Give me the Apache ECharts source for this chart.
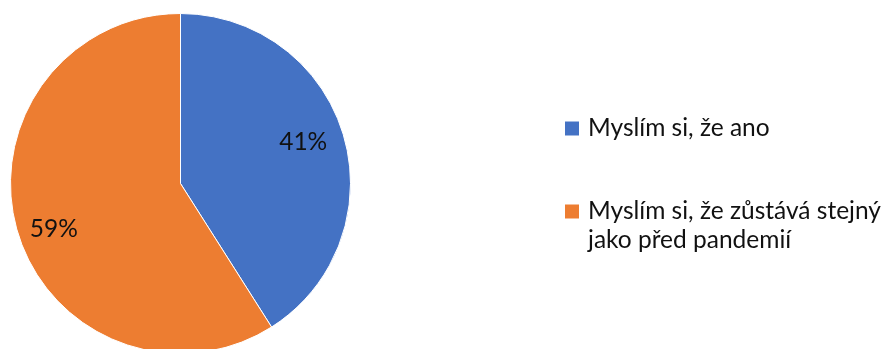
<!DOCTYPE html>
<html>
<head>
<meta charset="utf-8">
<script src="https://cdn.jsdelivr.net/npm/echarts@6/dist/echarts.min.js"></script>
<style>
  html, body { margin: 0; padding: 0; background: #fff; }
  #chart { width: 883px; height: 349px; }
</style>
</head>
<body>
<div id="chart"></div>
<script>
// Categories, shares (percent) and slice colours
const categories = ['Myslím si, že ano', 'Myslím si, že zůstává stejný\njako před pandemií'];
const values = [41, 59];
const colors = ['#4472C4', '#ED7D31'];

const FONT = 'Lato';
const FONT_SIZE = 24.5;
const chart = echarts.init(document.getElementById('chart'), null, { renderer: 'canvas' });

// Legend entries are rich text: a coloured square, a gap, then the (possibly wrapped) name
const rich = {
  t: { fontFamily: FONT, fontSize: FONT_SIZE, color: '#111', lineHeight: 29, verticalAlign: 'middle' },
  g: { width: 9, height: 14 },
  s: { width: 23, height: 14 }
};
colors.forEach((c, i) => {
  rich['m' + i] = { width: 14, height: 14, backgroundColor: c, verticalAlign: 'middle' };
});

// Small nudges of the percentage labels inside their slices
const labelNudge = [[-5, -4], [1, 8]];

chart.setOption({
  animation: false,
  color: colors,
  legend: {
    orient: 'vertical',
    left: 559, top: 116,
    padding: 0,
    itemWidth: 0, itemHeight: 0,
    itemGap: 58,
    selectedMode: false,
    data: categories,
    formatter: name => {
      const i = categories.indexOf(name);
      return name.split('\n')
        .map((l, k) => (k === 0 ? '{m' + i + '|}{g|}' : '{s|}') + '{t|' + l + '}')
        .join('\n');
    },
    textStyle: { rich: rich }
  },
  series: [
    {
      type: 'pie',
      center: [180.5, 183.5],
      radius: 170,
      startAngle: 90,
      clockwise: true,
      label: { show: false },
      labelLine: { show: false },
      itemStyle: { borderColor: '#fff', borderWidth: 1 },
      emphasis: { disabled: true },
      data: categories.map((n, i) => ({ name: n, value: values[i] }))
    },
    {
      // transparent ring that only carries the percentage labels
      type: 'pie',
      center: [180.5, 183.5],
      radius: [90, 170],
      startAngle: 90,
      clockwise: true,
      silent: true,
      itemStyle: { color: 'rgba(0,0,0,0)' },
      label: {
        show: true, position: 'inside',
        formatter: p => p.value + '%',
        fontFamily: FONT, fontSize: FONT_SIZE, color: '#111'
      },
      labelLayout: p => ({ dx: labelNudge[p.dataIndex][0], dy: labelNudge[p.dataIndex][1] }),
      labelLine: { show: false },
      emphasis: { disabled: true },
      data: categories.map((n, i) => ({ name: n, value: values[i] }))
    }
  ]
});
</script>
</body>
</html>
